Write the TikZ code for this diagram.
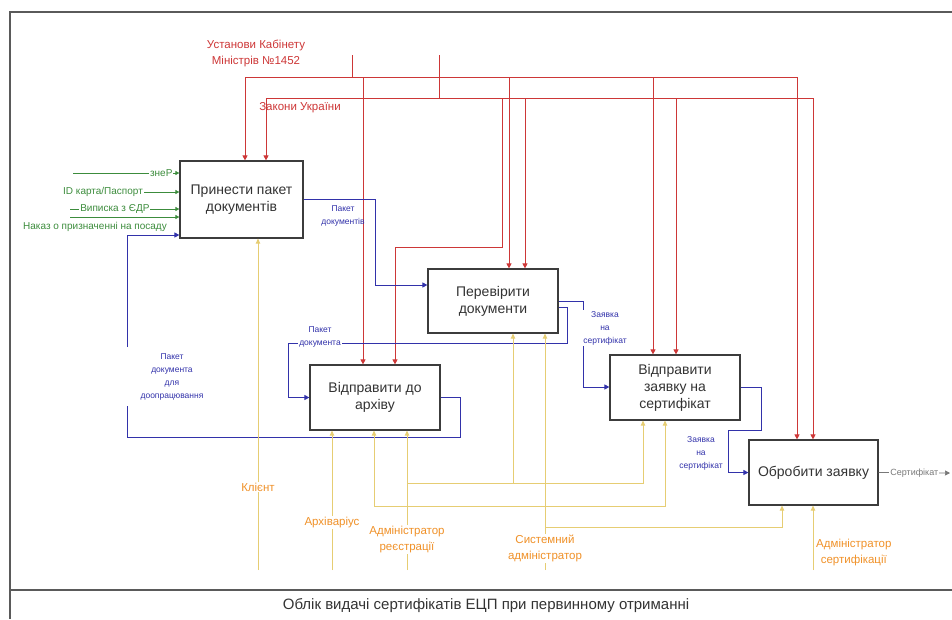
\documentclass[tikz,border=0pt]{standalone}
\usepackage{fontspec}
\setmainfont{Liberation Sans}
\usetikzlibrary{arrows.meta, positioning, calc}
\definecolor{frameline}{RGB}{90, 90, 90}
\definecolor{boxline}{RGB}{60, 60, 60}
\definecolor{ctrlred}{RGB}{205, 55, 55}
\definecolor{flowblue}{RGB}{50, 50, 170}
\definecolor{ingreen}{RGB}{60, 140, 60}
\definecolor{mechline}{RGB}{230, 205, 115}
\definecolor{mechtext}{RGB}{240, 145, 40}
\definecolor{outgrey}{RGB}{120, 120, 120}
\tikzset{
    func_box/.style={rectangle, draw=boxline, fill=white, text=black!80, line width=1.2pt, align=center, minimum width=130pt, minimum height=65pt, inner sep=2pt, font=\fontsize{14}{17}\selectfont},
    frame_line/.style={line width=1.5pt, color=frameline},
    ctrl_line/.style={line width=0.9pt, color=ctrlred},
    ctrl_arrow/.style={ctrl_line, -{Triangle[length=5pt, width=5pt]}},
    flow_line/.style={line width=0.9pt, color=flowblue},
    flow_arrow/.style={flow_line, -{Triangle[length=5pt, width=5pt]}},
    in_arrow/.style={line width=0.7pt, color=ingreen, -{Triangle[length=4pt, width=4pt]}},
    out_arrow/.style={line width=0.7pt, color=outgrey, -{Triangle[length=5pt, width=5pt]}},
    mech_arrow/.style={line width=0.9pt, color=mechline, -{Triangle[length=5pt, width=4.5pt]}},
    mech_link/.style={line width=0.9pt, color=mechline, {Triangle[length=5pt, width=4.5pt]}-{Triangle[length=5pt, width=4.5pt]}},
    ctrl_text/.style={font=\fontsize{11.5}{16}\selectfont, color=ctrlred, align=center},
    flow_text/.style={font=\fontsize{8.5}{13}\selectfont, color=flowblue, align=center, inner sep=1pt},
    in_text/.style={font=\fontsize{10}{12}\selectfont, color=ingreen, inner sep=1pt},
    mech_text/.style={font=\fontsize{11.5}{16}\selectfont, color=mechtext, align=center, inner sep=1pt},
    out_text/.style={font=\fontsize{9}{11}\selectfont, color=outgrey, inner sep=1pt},
    title_text/.style={font=\fontsize{15}{17}\selectfont, color=black!80}
}

\begin{document}
\begin{tikzpicture}[x=1pt, y=-1pt]
    \useasboundingbox (0,0) rectangle (952,619);

    % Frame and title
    \draw [frame_line] (952,12) -- (10,12) -- (10,619);
    \draw [frame_line] (10,590) -- (952,590);
    \node (title) at (486,606) [title_text] {Облік видачі сертифікатів ЕЦП при первинному отриманні};

    % Functions
    \node (bring) at (241.5,199.5) [func_box, minimum width=123pt, minimum height=77pt] {Принести пакет\\документів};
    \node (check) at (493,301) [func_box, minimum height=64pt] {Перевірити\\документи};
    \node (archive) at (375,397.5) [func_box] {Відправити до\\архіву};
    \node (request) at (675,387.5) [func_box] {Відправити\\заявку на\\сертифікат};
    \node (handle) at (813.5,472.5) [func_box, minimum width=129pt] {Обробити заявку};

    % Controls
    \node (cabinet) at (256,53) [ctrl_text] {Установи Кабінету\\Міністрів №1452};
    \node (laws) at (300,108) [ctrl_text] {Закони України};
    \coordinate (cabtop) at (352,55);
    \coordinate (cabbus) at (352,77);
    \coordinate (lawtop) at (439,55);
    \coordinate (lawbus) at (439,98);
    \coordinate (c1) at (245,77);
    \coordinate (c2) at (363,77);
    \coordinate (c3) at (509,77);
    \coordinate (c4) at (653,77);
    \coordinate (c5) at (797,77);
    \coordinate (l1) at (266,98);
    \coordinate (l2) at (502,98);
    \coordinate (l3) at (525,98);
    \coordinate (l4) at (676,98);
    \coordinate (l5) at (813,98);
    \coordinate (l2a) at (502,247);
    \coordinate (l2b) at (395,247);

    \draw [ctrl_line] (cabtop) -- (cabbus);
    \draw [ctrl_arrow] (cabbus) -| (bring.north -| c1);
    \draw [ctrl_arrow] (cabbus) -| (handle.north -| c5);
    \draw [ctrl_arrow] (c2) -- (archive.north -| c2);
    \draw [ctrl_arrow] (c3) -- (check.north -| c3);
    \draw [ctrl_arrow] (c4) -- (request.north -| c4);

    \draw [ctrl_line] (lawtop) -- (lawbus);
    \draw [ctrl_arrow] (lawbus) -| (bring.north -| l1);
    \draw [ctrl_arrow] (lawbus) -| (handle.north -| l5);
    \draw [ctrl_arrow] (l2) -- (l2a) -- (l2b) -- (archive.north -| l2b);
    \draw [ctrl_arrow] (l3) -- (check.north -| l3);
    \draw [ctrl_arrow] (l4) -- (request.north -| l4);

    % Inputs
    \coordinate (in1) at (73,173);
    \draw [in_arrow] (in1) -- node[in_text, pos=0.83, fill=white] {знеР} (bring.west |- in1);
    \node (idcard) at (103,192) [in_text] {ID карта/Паспорт};
    \draw [in_arrow] (idcard) -- (bring.west |- idcard);
    \coordinate (in3) at (70,209);
    \draw [in_arrow] (in3) -- node[in_text, pos=0.41, fill=white] {Виписка з ЄДР} (bring.west |- in3);
    \coordinate (in4) at (70,217);
    \draw [in_arrow] (in4) -- (bring.west |- in4);
    \node (order) at (95,227) [in_text] {Наказ о призначенні на посаду};

    % Flows between functions
    \coordinate (f1) at (375,285);
    \draw [flow_arrow] (bring.east) -| (f1) -- (check.west |- f1);
    \node (pack1) at (343,216) [flow_text] {Пакет\\документів};

    \coordinate (f2) at (583,387);
    \draw [flow_arrow] (check.east) -| (f2) -- (request.west |- f2);
    \node (req1) at (605,328) [flow_text, fill=white] {Заявка\\на\\сертифікат};

    \coordinate (f3a) at (567,343);
    \coordinate (f3b) at (288,343);
    \draw [flow_arrow] ($(check.east)+(0,6)$) -| (f3a) -- (f3b) |- (archive.west);
    \node (pack2) at (320,337) [flow_text, fill=white] {Пакет\\документа};

    \coordinate (f4a) at (460,437);
    \coordinate (f4b) at (127,437);
    \coordinate (f4gap) at (127,406);
    \coordinate (f4top) at (127,347);
    \coordinate (f4c) at (127,235);
    \draw [flow_line] (archive.east) -| (f4a) -- (f4b) -- (f4gap);
    \draw [flow_arrow] (f4top) -- (f4c) -- (bring.west |- f4c);
    \node (pack3) at (172,377) [flow_text] {Пакет\\документа\\для\\доопрацювання};

    \coordinate (f5a) at (761,430);
    \coordinate (f5b) at (728,430);
    \draw [flow_arrow] (request.east) -| (f5a) -- (f5b) |- (handle.west);
    \node (req2) at (701,453) [flow_text] {Заявка\\на\\сертифікат};

    % Output
    \coordinate (out) at (950,473);
    \draw [out_arrow] (handle.east) -- node[out_text, fill=white, pos=0.5] {Сертифікат} (out);

    % Mechanisms
    \coordinate (client) at (258,570);
    \draw [mech_arrow] (client) -- node[mech_text, fill=white, pos=0.25] {Клієнт} (bring.south -| client);
    \coordinate (archivist) at (332,570);
    \draw [mech_arrow] (archivist) -- node[mech_text, fill=white, pos=0.34] {Архіваріус} (archive.south -| archivist);
    \coordinate (regadmin) at (407,570);
    \draw [mech_arrow] (regadmin) -- node[mech_text, fill=white, pos=0.22] {Адміністратор\\реєстрації} (archive.south -| regadmin);
    \coordinate (ra1) at (407,483);
    \coordinate (ra2) at (513,483);
    \coordinate (ra3) at (643,483);
    \draw [mech_arrow] (ra1) -- (ra3) -- (request.south -| ra3);
    \draw [mech_arrow] (ra2) -- (check.south -| ra2);

    \coordinate (link1) at (374,506);
    \coordinate (link2) at (665,506);
    \draw [mech_link] (archive.south -| link1) -- (link1) -- (link2) -- (request.south -| link2);

    \coordinate (sysadmin) at (545,570);
    \coordinate (sa1) at (545,527);
    \coordinate (sa2) at (782,527);
    \draw [mech_arrow] (sysadmin) -- node[mech_text, fill=white, pos=0.09] {Системний\\адміністратор} (check.south -| sysadmin);
    \draw [mech_arrow] (sa1) -| (handle.south -| sa2);

    \coordinate (certadmin) at (813,570);
    \draw [mech_arrow] (certadmin) -- (handle.south -| certadmin);
    \node (certlbl) at (815,553) [mech_text, anchor=west] {Адміністратор\\сертифікації};

\end{tikzpicture}
\end{document}
